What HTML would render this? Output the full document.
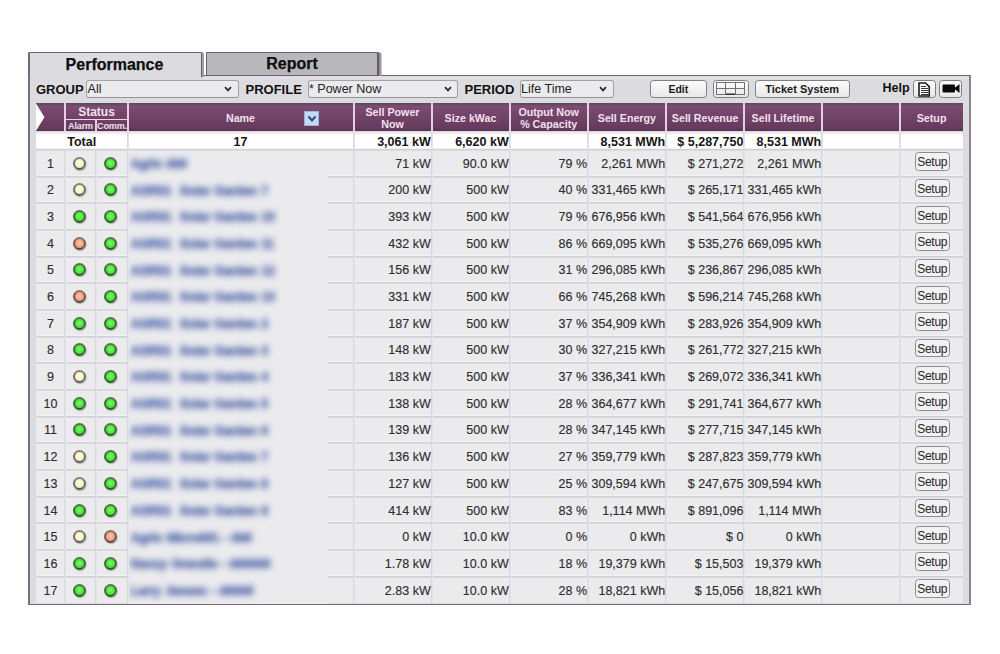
<!DOCTYPE html>
<html><head><meta charset="utf-8"><title>Performance</title>
<style>
html,body{margin:0;padding:0;background:#fff;width:1000px;height:654px;overflow:hidden;font-family:"Liberation Sans",sans-serif;}
.a{position:absolute;box-sizing:border-box;}
.frame{left:28px;top:75px;width:943px;height:530px;border:2px solid #76687a;border-top:1.5px solid #6e6070;border-right:2px solid #8a8290;border-left-color:#7a6e7e;border-bottom:1.6px solid #766a7a;background:#dcdce0;}
.tab1{left:28px;top:51.5px;width:174px;height:25.5px;background:#dcdce0;border-top:1.8px solid #6e6272;border-left:2px solid #76687a;border-right:1.8px solid #6a5e6e;box-shadow:2px 0 0 #a29aa6;border-top-right-radius:2px;}
.tab2{left:206px;top:51.8px;width:173px;height:24px;background:#b8b7bc;border:1.5px solid #6e6070;border-bottom-width:1.7px;border-right:2px solid #645a68;box-shadow:2.5px 0 0 #9a94a0;border-top-right-radius:3px;}
.tabt{font-weight:bold;font-size:16px;color:#0e0e0e;-webkit-text-stroke:0.25px #0e0e0e;text-align:center;line-height:20px;}
.lbl{font-weight:bold;font-size:13px;color:#111;line-height:18px;top:80.7px;}
.sel{top:79.6px;height:18.4px;background:#ebebee;border:1.2px solid #a4a4a8;border-bottom-color:#949498;border-radius:3px;font-size:12.5px;color:#222;line-height:17px;padding-left:0.2px;white-space:nowrap;}
.chev{position:absolute;right:5.5px;top:5.2px;width:8px;height:6px;}
.btn{top:79.8px;height:18px;background:linear-gradient(#fbfbfb,#e8e8ea);border:1.4px solid #808084;border-radius:3.5px;font-size:11px;font-weight:bold;color:#1a1a1a;text-align:center;line-height:16px;}
.hdr{top:103.1px;height:28.4px;background:linear-gradient(#5e4a5c 0,#5e4a5c 1px,#7e4c74 3.5px,#734569 40%,#663a5e 90%,#55324f 100%);}
.ht{color:#f2e0ee;font-weight:bold;font-size:10.7px;text-align:center;line-height:12px;}
.vl{width:2px;background:#e6cfe4;}
.tot{top:131.5px;height:18.3px;background:linear-gradient(#e6e2ec 0,#f4f2f6 2px,#fff 3px);}
.tt{font-weight:bold;font-size:12.5px;color:#151515;line-height:20px;white-space:nowrap;}
.row{background:#ebebee;}
.td{font-size:12.5px;color:#2e2e2e;white-space:nowrap;text-align:right;-webkit-text-stroke:0.15px #2e2e2e;}
.hl{height:2px;background:linear-gradient(#d0d0d5 50%,#dcdce0 50%);box-shadow:0 -1px 0 #f2f2f4;}
.vg{width:1px;background:#d8d8de;box-shadow:1px 0 0 #e4e4e8;}
.led{width:13px;height:13px;border-radius:50%;}
.led{box-shadow:0.6px 1px 1.2px rgba(0,0,0,.28);border:2px solid;background-clip:padding-box;}
.Y{border-color:#85827a #727068 #5c5a54 #727068;background:radial-gradient(circle at 50% 45%,#fffef0 0,#f7f3c4 50%,#e9e5aa 100%);}
.G{border-color:#4a7a42 #3e6c36 #30582a #3e6c36;background:radial-gradient(circle at 50% 45%,#80f870 0,#4ce63a 55%,#3cd02c 100%);}
.O{border-color:#8a7266 #735a4e #5e463a #735a4e;background:radial-gradient(circle at 50% 45%,#fcc8ae 0,#f2a080 55%,#e28c6c 100%);}
.setup{width:34.5px;height:18.5px;background:#f1f1f3;border:1.4px solid #8e8e92;border-radius:3.5px;font-size:12px;letter-spacing:-0.25px;color:#262626;text-align:center;line-height:18.4px;}
.blur{left:128.6px;top:151px;width:199.6px;height:452.5px;background:#ebebee;overflow:hidden;}
.nm{position:absolute;left:2px;font-size:12.5px;letter-spacing:-0.2px;color:#6074b0;-webkit-text-stroke:1px #6074b0;white-space:nowrap;filter:blur(3.2px);font-weight:bold;word-spacing:1px;}
</style></head><body>

<div class="a frame"></div>
<div class="a" style="left:204px;top:76.5px;width:765px;height:2.5px;background:#e4e0e8;"></div>
<div class="a tab1"></div>
<div class="a tab2"></div>
<div class="a tabt" style="left:27px;top:55.3px;width:175px;">Performance</div>
<div class="a tabt" style="left:206px;top:54px;width:172px;">Report</div>
<div class="a lbl" style="left:36px;">GROUP</div>
<div class="a sel" style="left:86.4px;width:152.4px;">All<svg class="chev" viewBox="0 0 8 6"><path d="M1 1.2 L4 4.4 L7 1.2" fill="none" stroke="#2a2a2a" stroke-width="1.7"/></svg></div>
<div class="a lbl" style="left:245.5px;">PROFILE</div>
<div class="a sel" style="left:307.8px;width:150.6px;">* Power Now<svg class="chev" viewBox="0 0 8 6"><path d="M1 1.2 L4 4.4 L7 1.2" fill="none" stroke="#2a2a2a" stroke-width="1.7"/></svg></div>
<div class="a lbl" style="left:464.5px;">PERIOD</div>
<div class="a sel" style="left:519.9px;width:94.1px;">Life Time<svg class="chev" viewBox="0 0 8 6"><path d="M1 1.2 L4 4.4 L7 1.2" fill="none" stroke="#2a2a2a" stroke-width="1.7"/></svg></div>
<div class="a btn" style="left:650.2px;width:56.4px;font-size:10.5px;">Edit</div>
<div class="a btn" style="left:712.6px;width:36.6px;"><svg style="position:absolute;left:2.2px;top:1px" width="29" height="13" viewBox="0 0 29 13"><g fill="none" stroke="#707070" stroke-width="1"><rect x="0.5" y="0.5" width="28" height="12"/><line x1="9.5" y1="0.5" x2="9.5" y2="12.5"/><line x1="19.5" y1="0.5" x2="19.5" y2="12.5"/><line x1="0.5" y1="6.5" x2="28.5" y2="6.5"/></g><rect x="10" y="11.5" width="9" height="1.5" fill="#333"/></svg></div>
<div class="a btn" style="left:754.8px;width:94.8px;">Ticket System</div>
<div class="a lbl" style="left:882.5px;top:78.5px;font-size:12.5px;">Help</div>
<div class="a btn" style="left:912.5px;width:23px;top:79.5px;height:18.5px;"></div>
<svg class="a" style="left:918px;top:82px" width="13" height="15" viewBox="0 0 13 15" shape-rendering="crispEdges"><path d="M1 1 H7.5 L11.2 4.7 V14 H1 Z" fill="#fff" stroke="#1a1a1a" stroke-width="1.6" shape-rendering="geometricPrecision"/><g fill="#333"><rect x="3" y="4" width="5" height="1"/><rect x="3" y="6" width="6.5" height="1"/><rect x="3" y="8" width="6.5" height="1"/><rect x="3" y="10" width="6.5" height="1"/><rect x="3" y="12" width="6.5" height="1"/></g></svg>
<div class="a btn" style="left:939px;width:22.5px;top:79.5px;height:18.5px;"></div>
<svg class="a" style="left:942px;top:83px" width="18" height="11" viewBox="0 0 18 11"><rect x="0.5" y="1.5" width="12.5" height="8" rx="1" fill="#0a0a0a"/><path d="M12 5.5 L17.5 1 V10 Z" fill="#0a0a0a"/></svg>
<div class="a hdr" style="left:36px;width:927px;"></div>
<svg class="a" style="left:36px;top:103.1px" width="9" height="28.4" viewBox="0 0 9 28.4"><path d="M0 0.6 L8.5 14.2 L0 27.8 Z" fill="#fff"/></svg>
<div class="a vl" style="left:64px;top:103.1px;height:28.4px;"></div>
<div class="a vl" style="left:95px;top:119px;height:12.5px;"></div>
<div class="a vl" style="left:127px;top:103.1px;height:28.4px;"></div>
<div class="a vl" style="left:353px;top:103.1px;height:28.4px;"></div>
<div class="a vl" style="left:431px;top:103.1px;height:28.4px;"></div>
<div class="a vl" style="left:509px;top:103.1px;height:28.4px;"></div>
<div class="a vl" style="left:587px;top:103.1px;height:28.4px;"></div>
<div class="a vl" style="left:665px;top:103.1px;height:28.4px;"></div>
<div class="a vl" style="left:743px;top:103.1px;height:28.4px;"></div>
<div class="a vl" style="left:821px;top:103.1px;height:28.4px;"></div>
<div class="a vl" style="left:899px;top:103.1px;height:28.4px;"></div>
<div class="a" style="left:65px;top:118.5px;width:63px;height:1.6px;background:#ecd4ea;"></div>
<div class="a ht" style="left:65px;top:106px;width:63px;font-size:12px;">Status</div>
<div class="a ht" style="left:65px;top:120.5px;width:31px;font-size:9px;line-height:10px;letter-spacing:-0.1px;">Alarm</div>
<div class="a ht" style="left:96px;top:120.5px;width:32px;font-size:9px;line-height:10px;letter-spacing:-0.1px;">Comm.</div>
<div class="a ht" style="left:127.5px;top:112px;width:226px;">Name</div>
<div class="a" style="left:304px;top:111px;width:15px;height:15px;background:#c4daf4;border:1px solid #9ab4d8;box-sizing:border-box;"><svg style="position:absolute;left:2px;top:3px" width="10" height="8" viewBox="0 0 10 8"><path d="M1.5 1.5 L5 5.5 L8.5 1.5" fill="none" stroke="#334a7a" stroke-width="2"/></svg></div>
<div class="a ht" style="left:353.5px;top:106px;width:78px;">Sell Power<br>Now</div>
<div class="a ht" style="left:431.5px;top:112px;width:78px;">Size kWac</div>
<div class="a ht" style="left:509.5px;top:106px;width:78.3px;">Output Now<br>% Capacity</div>
<div class="a ht" style="left:587.8px;top:112px;width:78.2px;">Sell Energy</div>
<div class="a ht" style="left:666px;top:112px;width:78.2px;">Sell Revenue</div>
<div class="a ht" style="left:744.2px;top:112px;width:77.8px;">Sell Lifetime</div>
<div class="a ht" style="left:822px;top:112px;width:78.2px;"></div>
<div class="a ht" style="left:900.2px;top:112px;width:62.8px;">Setup</div>
<div class="a tot" style="left:36px;width:927px;"></div>
<div class="a tt" style="left:36px;top:131.5px;width:91.5px;text-align:center;">Total</div>
<div class="a tt" style="left:127.5px;top:131.5px;width:226px;text-align:center;">17</div>
<div class="a tt" style="left:330.7px;top:131.5px;width:100px;text-align:right;">3,061 kW</div>
<div class="a tt" style="left:408.7px;top:131.5px;width:100px;text-align:right;">6,620 kW</div>
<div class="a tt" style="left:565.2px;top:131.5px;width:100px;text-align:right;">8,531 MWh</div>
<div class="a tt" style="left:643.4px;top:131.5px;width:100px;text-align:right;">$ 5,287,750</div>
<div class="a tt" style="left:721.2px;top:131.5px;width:100px;text-align:right;">8,531 MWh</div>
<div class="a vg" style="left:127px;top:131.5px;height:18.5px;"></div>
<div class="a vg" style="left:353px;top:131.5px;height:18.5px;"></div>
<div class="a vg" style="left:431px;top:131.5px;height:18.5px;"></div>
<div class="a vg" style="left:509px;top:131.5px;height:18.5px;"></div>
<div class="a vg" style="left:587px;top:131.5px;height:18.5px;"></div>
<div class="a vg" style="left:665px;top:131.5px;height:18.5px;"></div>
<div class="a vg" style="left:743px;top:131.5px;height:18.5px;"></div>
<div class="a vg" style="left:821px;top:131.5px;height:18.5px;"></div>
<div class="a vg" style="left:899px;top:131.5px;height:18.5px;"></div>
<div class="a row" style="left:36px;top:149.95px;width:927px;height:453.56px;"></div>
<div class="a hl" style="left:36px;top:149px;width:927px;"></div>
<div class="a hl" style="left:36px;top:176px;width:927px;"></div>
<div class="a hl" style="left:36px;top:202px;width:927px;"></div>
<div class="a hl" style="left:36px;top:229px;width:927px;"></div>
<div class="a hl" style="left:36px;top:256px;width:927px;"></div>
<div class="a hl" style="left:36px;top:282px;width:927px;"></div>
<div class="a hl" style="left:36px;top:309px;width:927px;"></div>
<div class="a hl" style="left:36px;top:336px;width:927px;"></div>
<div class="a hl" style="left:36px;top:362px;width:927px;"></div>
<div class="a hl" style="left:36px;top:389px;width:927px;"></div>
<div class="a hl" style="left:36px;top:416px;width:927px;"></div>
<div class="a hl" style="left:36px;top:442px;width:927px;"></div>
<div class="a hl" style="left:36px;top:469px;width:927px;"></div>
<div class="a hl" style="left:36px;top:496px;width:927px;"></div>
<div class="a hl" style="left:36px;top:522px;width:927px;"></div>
<div class="a hl" style="left:36px;top:549px;width:927px;"></div>
<div class="a hl" style="left:36px;top:576px;width:927px;"></div>
<div class="a vg" style="left:64px;top:149.95px;height:453.56px;"></div>
<div class="a vg" style="left:95px;top:149.95px;height:453.56px;"></div>
<div class="a vg" style="left:127px;top:149.95px;height:453.56px;"></div>
<div class="a vg" style="left:353px;top:149.95px;height:453.56px;"></div>
<div class="a vg" style="left:431px;top:149.95px;height:453.56px;"></div>
<div class="a vg" style="left:509px;top:149.95px;height:453.56px;"></div>
<div class="a vg" style="left:587px;top:149.95px;height:453.56px;"></div>
<div class="a vg" style="left:665px;top:149.95px;height:453.56px;"></div>
<div class="a vg" style="left:743px;top:149.95px;height:453.56px;"></div>
<div class="a vg" style="left:821px;top:149.95px;height:453.56px;"></div>
<div class="a vg" style="left:899px;top:149.95px;height:453.56px;"></div>
<div class="a td" style="left:36px;top:156.69px;width:29px;text-align:center;line-height:14px;">1</div>
<div class="a led Y" style="left:72.5px;top:156.69px;"></div>
<div class="a led G" style="left:103.9px;top:156.69px;"></div>
<div class="a td" style="left:330.7px;top:156.69px;width:100px;line-height:14px;">71 kW</div>
<div class="a td" style="left:408.7px;top:156.69px;width:100px;line-height:14px;">90.0 kW</div>
<div class="a td" style="left:487px;top:156.69px;width:100px;line-height:14px;">79 %</div>
<div class="a td" style="left:565.2px;top:156.69px;width:100px;line-height:14px;">2,261 MWh</div>
<div class="a td" style="left:643.4px;top:156.69px;width:100px;line-height:14px;">$ 271,272</div>
<div class="a td" style="left:721.2px;top:156.69px;width:100px;line-height:14px;">2,261 MWh</div>
<div class="a setup" style="left:915px;top:152.15px;">Setup</div>
<div class="a td" style="left:36px;top:183.37px;width:29px;text-align:center;line-height:14px;">2</div>
<div class="a led Y" style="left:72.5px;top:183.37px;"></div>
<div class="a led G" style="left:103.9px;top:183.37px;"></div>
<div class="a td" style="left:330.7px;top:183.37px;width:100px;line-height:14px;">200 kW</div>
<div class="a td" style="left:408.7px;top:183.37px;width:100px;line-height:14px;">500 kW</div>
<div class="a td" style="left:487px;top:183.37px;width:100px;line-height:14px;">40 %</div>
<div class="a td" style="left:565.2px;top:183.37px;width:100px;line-height:14px;">331,465 kWh</div>
<div class="a td" style="left:643.4px;top:183.37px;width:100px;line-height:14px;">$ 265,171</div>
<div class="a td" style="left:721.2px;top:183.37px;width:100px;line-height:14px;">331,465 kWh</div>
<div class="a setup" style="left:915px;top:178.83px;">Setup</div>
<div class="a td" style="left:36px;top:210.05px;width:29px;text-align:center;line-height:14px;">3</div>
<div class="a led G" style="left:72.5px;top:210.05px;"></div>
<div class="a led G" style="left:103.9px;top:210.05px;"></div>
<div class="a td" style="left:330.7px;top:210.05px;width:100px;line-height:14px;">393 kW</div>
<div class="a td" style="left:408.7px;top:210.05px;width:100px;line-height:14px;">500 kW</div>
<div class="a td" style="left:487px;top:210.05px;width:100px;line-height:14px;">79 %</div>
<div class="a td" style="left:565.2px;top:210.05px;width:100px;line-height:14px;">676,956 kWh</div>
<div class="a td" style="left:643.4px;top:210.05px;width:100px;line-height:14px;">$ 541,564</div>
<div class="a td" style="left:721.2px;top:210.05px;width:100px;line-height:14px;">676,956 kWh</div>
<div class="a setup" style="left:915px;top:205.51px;">Setup</div>
<div class="a td" style="left:36px;top:236.73px;width:29px;text-align:center;line-height:14px;">4</div>
<div class="a led O" style="left:72.5px;top:236.73px;"></div>
<div class="a led G" style="left:103.9px;top:236.73px;"></div>
<div class="a td" style="left:330.7px;top:236.73px;width:100px;line-height:14px;">432 kW</div>
<div class="a td" style="left:408.7px;top:236.73px;width:100px;line-height:14px;">500 kW</div>
<div class="a td" style="left:487px;top:236.73px;width:100px;line-height:14px;">86 %</div>
<div class="a td" style="left:565.2px;top:236.73px;width:100px;line-height:14px;">669,095 kWh</div>
<div class="a td" style="left:643.4px;top:236.73px;width:100px;line-height:14px;">$ 535,276</div>
<div class="a td" style="left:721.2px;top:236.73px;width:100px;line-height:14px;">669,095 kWh</div>
<div class="a setup" style="left:915px;top:232.19px;">Setup</div>
<div class="a td" style="left:36px;top:263.41px;width:29px;text-align:center;line-height:14px;">5</div>
<div class="a led G" style="left:72.5px;top:263.41px;"></div>
<div class="a led G" style="left:103.9px;top:263.41px;"></div>
<div class="a td" style="left:330.7px;top:263.41px;width:100px;line-height:14px;">156 kW</div>
<div class="a td" style="left:408.7px;top:263.41px;width:100px;line-height:14px;">500 kW</div>
<div class="a td" style="left:487px;top:263.41px;width:100px;line-height:14px;">31 %</div>
<div class="a td" style="left:565.2px;top:263.41px;width:100px;line-height:14px;">296,085 kWh</div>
<div class="a td" style="left:643.4px;top:263.41px;width:100px;line-height:14px;">$ 236,867</div>
<div class="a td" style="left:721.2px;top:263.41px;width:100px;line-height:14px;">296,085 kWh</div>
<div class="a setup" style="left:915px;top:258.87px;">Setup</div>
<div class="a td" style="left:36px;top:290.09px;width:29px;text-align:center;line-height:14px;">6</div>
<div class="a led O" style="left:72.5px;top:290.09px;"></div>
<div class="a led G" style="left:103.9px;top:290.09px;"></div>
<div class="a td" style="left:330.7px;top:290.09px;width:100px;line-height:14px;">331 kW</div>
<div class="a td" style="left:408.7px;top:290.09px;width:100px;line-height:14px;">500 kW</div>
<div class="a td" style="left:487px;top:290.09px;width:100px;line-height:14px;">66 %</div>
<div class="a td" style="left:565.2px;top:290.09px;width:100px;line-height:14px;">745,268 kWh</div>
<div class="a td" style="left:643.4px;top:290.09px;width:100px;line-height:14px;">$ 596,214</div>
<div class="a td" style="left:721.2px;top:290.09px;width:100px;line-height:14px;">745,268 kWh</div>
<div class="a setup" style="left:915px;top:285.55px;">Setup</div>
<div class="a td" style="left:36px;top:316.77px;width:29px;text-align:center;line-height:14px;">7</div>
<div class="a led G" style="left:72.5px;top:316.77px;"></div>
<div class="a led G" style="left:103.9px;top:316.77px;"></div>
<div class="a td" style="left:330.7px;top:316.77px;width:100px;line-height:14px;">187 kW</div>
<div class="a td" style="left:408.7px;top:316.77px;width:100px;line-height:14px;">500 kW</div>
<div class="a td" style="left:487px;top:316.77px;width:100px;line-height:14px;">37 %</div>
<div class="a td" style="left:565.2px;top:316.77px;width:100px;line-height:14px;">354,909 kWh</div>
<div class="a td" style="left:643.4px;top:316.77px;width:100px;line-height:14px;">$ 283,926</div>
<div class="a td" style="left:721.2px;top:316.77px;width:100px;line-height:14px;">354,909 kWh</div>
<div class="a setup" style="left:915px;top:312.23px;">Setup</div>
<div class="a td" style="left:36px;top:343.45px;width:29px;text-align:center;line-height:14px;">8</div>
<div class="a led G" style="left:72.5px;top:343.45px;"></div>
<div class="a led G" style="left:103.9px;top:343.45px;"></div>
<div class="a td" style="left:330.7px;top:343.45px;width:100px;line-height:14px;">148 kW</div>
<div class="a td" style="left:408.7px;top:343.45px;width:100px;line-height:14px;">500 kW</div>
<div class="a td" style="left:487px;top:343.45px;width:100px;line-height:14px;">30 %</div>
<div class="a td" style="left:565.2px;top:343.45px;width:100px;line-height:14px;">327,215 kWh</div>
<div class="a td" style="left:643.4px;top:343.45px;width:100px;line-height:14px;">$ 261,772</div>
<div class="a td" style="left:721.2px;top:343.45px;width:100px;line-height:14px;">327,215 kWh</div>
<div class="a setup" style="left:915px;top:338.91px;">Setup</div>
<div class="a td" style="left:36px;top:370.13px;width:29px;text-align:center;line-height:14px;">9</div>
<div class="a led Y" style="left:72.5px;top:370.13px;"></div>
<div class="a led G" style="left:103.9px;top:370.13px;"></div>
<div class="a td" style="left:330.7px;top:370.13px;width:100px;line-height:14px;">183 kW</div>
<div class="a td" style="left:408.7px;top:370.13px;width:100px;line-height:14px;">500 kW</div>
<div class="a td" style="left:487px;top:370.13px;width:100px;line-height:14px;">37 %</div>
<div class="a td" style="left:565.2px;top:370.13px;width:100px;line-height:14px;">336,341 kWh</div>
<div class="a td" style="left:643.4px;top:370.13px;width:100px;line-height:14px;">$ 269,072</div>
<div class="a td" style="left:721.2px;top:370.13px;width:100px;line-height:14px;">336,341 kWh</div>
<div class="a setup" style="left:915px;top:365.59px;">Setup</div>
<div class="a td" style="left:36px;top:396.81px;width:29px;text-align:center;line-height:14px;">10</div>
<div class="a led G" style="left:72.5px;top:396.81px;"></div>
<div class="a led G" style="left:103.9px;top:396.81px;"></div>
<div class="a td" style="left:330.7px;top:396.81px;width:100px;line-height:14px;">138 kW</div>
<div class="a td" style="left:408.7px;top:396.81px;width:100px;line-height:14px;">500 kW</div>
<div class="a td" style="left:487px;top:396.81px;width:100px;line-height:14px;">28 %</div>
<div class="a td" style="left:565.2px;top:396.81px;width:100px;line-height:14px;">364,677 kWh</div>
<div class="a td" style="left:643.4px;top:396.81px;width:100px;line-height:14px;">$ 291,741</div>
<div class="a td" style="left:721.2px;top:396.81px;width:100px;line-height:14px;">364,677 kWh</div>
<div class="a setup" style="left:915px;top:392.27px;">Setup</div>
<div class="a td" style="left:36px;top:423.49px;width:29px;text-align:center;line-height:14px;">11</div>
<div class="a led G" style="left:72.5px;top:423.49px;"></div>
<div class="a led G" style="left:103.9px;top:423.49px;"></div>
<div class="a td" style="left:330.7px;top:423.49px;width:100px;line-height:14px;">139 kW</div>
<div class="a td" style="left:408.7px;top:423.49px;width:100px;line-height:14px;">500 kW</div>
<div class="a td" style="left:487px;top:423.49px;width:100px;line-height:14px;">28 %</div>
<div class="a td" style="left:565.2px;top:423.49px;width:100px;line-height:14px;">347,145 kWh</div>
<div class="a td" style="left:643.4px;top:423.49px;width:100px;line-height:14px;">$ 277,715</div>
<div class="a td" style="left:721.2px;top:423.49px;width:100px;line-height:14px;">347,145 kWh</div>
<div class="a setup" style="left:915px;top:418.95px;">Setup</div>
<div class="a td" style="left:36px;top:450.17px;width:29px;text-align:center;line-height:14px;">12</div>
<div class="a led Y" style="left:72.5px;top:450.17px;"></div>
<div class="a led G" style="left:103.9px;top:450.17px;"></div>
<div class="a td" style="left:330.7px;top:450.17px;width:100px;line-height:14px;">136 kW</div>
<div class="a td" style="left:408.7px;top:450.17px;width:100px;line-height:14px;">500 kW</div>
<div class="a td" style="left:487px;top:450.17px;width:100px;line-height:14px;">27 %</div>
<div class="a td" style="left:565.2px;top:450.17px;width:100px;line-height:14px;">359,779 kWh</div>
<div class="a td" style="left:643.4px;top:450.17px;width:100px;line-height:14px;">$ 287,823</div>
<div class="a td" style="left:721.2px;top:450.17px;width:100px;line-height:14px;">359,779 kWh</div>
<div class="a setup" style="left:915px;top:445.63px;">Setup</div>
<div class="a td" style="left:36px;top:476.85px;width:29px;text-align:center;line-height:14px;">13</div>
<div class="a led Y" style="left:72.5px;top:476.85px;"></div>
<div class="a led G" style="left:103.9px;top:476.85px;"></div>
<div class="a td" style="left:330.7px;top:476.85px;width:100px;line-height:14px;">127 kW</div>
<div class="a td" style="left:408.7px;top:476.85px;width:100px;line-height:14px;">500 kW</div>
<div class="a td" style="left:487px;top:476.85px;width:100px;line-height:14px;">25 %</div>
<div class="a td" style="left:565.2px;top:476.85px;width:100px;line-height:14px;">309,594 kWh</div>
<div class="a td" style="left:643.4px;top:476.85px;width:100px;line-height:14px;">$ 247,675</div>
<div class="a td" style="left:721.2px;top:476.85px;width:100px;line-height:14px;">309,594 kWh</div>
<div class="a setup" style="left:915px;top:472.31px;">Setup</div>
<div class="a td" style="left:36px;top:503.53px;width:29px;text-align:center;line-height:14px;">14</div>
<div class="a led G" style="left:72.5px;top:503.53px;"></div>
<div class="a led G" style="left:103.9px;top:503.53px;"></div>
<div class="a td" style="left:330.7px;top:503.53px;width:100px;line-height:14px;">414 kW</div>
<div class="a td" style="left:408.7px;top:503.53px;width:100px;line-height:14px;">500 kW</div>
<div class="a td" style="left:487px;top:503.53px;width:100px;line-height:14px;">83 %</div>
<div class="a td" style="left:565.2px;top:503.53px;width:100px;line-height:14px;">1,114 MWh</div>
<div class="a td" style="left:643.4px;top:503.53px;width:100px;line-height:14px;">$ 891,096</div>
<div class="a td" style="left:721.2px;top:503.53px;width:100px;line-height:14px;">1,114 MWh</div>
<div class="a setup" style="left:915px;top:498.99px;">Setup</div>
<div class="a td" style="left:36px;top:530.21px;width:29px;text-align:center;line-height:14px;">15</div>
<div class="a led Y" style="left:72.5px;top:530.21px;"></div>
<div class="a led O" style="left:103.9px;top:530.21px;"></div>
<div class="a td" style="left:330.7px;top:530.21px;width:100px;line-height:14px;">0 kW</div>
<div class="a td" style="left:408.7px;top:530.21px;width:100px;line-height:14px;">10.0 kW</div>
<div class="a td" style="left:487px;top:530.21px;width:100px;line-height:14px;">0 %</div>
<div class="a td" style="left:565.2px;top:530.21px;width:100px;line-height:14px;">0 kWh</div>
<div class="a td" style="left:643.4px;top:530.21px;width:100px;line-height:14px;">$ 0</div>
<div class="a td" style="left:721.2px;top:530.21px;width:100px;line-height:14px;">0 kWh</div>
<div class="a setup" style="left:915px;top:525.67px;">Setup</div>
<div class="a td" style="left:36px;top:556.89px;width:29px;text-align:center;line-height:14px;">16</div>
<div class="a led G" style="left:72.5px;top:556.89px;"></div>
<div class="a led G" style="left:103.9px;top:556.89px;"></div>
<div class="a td" style="left:330.7px;top:556.89px;width:100px;line-height:14px;">1.78 kW</div>
<div class="a td" style="left:408.7px;top:556.89px;width:100px;line-height:14px;">10.0 kW</div>
<div class="a td" style="left:487px;top:556.89px;width:100px;line-height:14px;">18 %</div>
<div class="a td" style="left:565.2px;top:556.89px;width:100px;line-height:14px;">19,379 kWh</div>
<div class="a td" style="left:643.4px;top:556.89px;width:100px;line-height:14px;">$ 15,503</div>
<div class="a td" style="left:721.2px;top:556.89px;width:100px;line-height:14px;">19,379 kWh</div>
<div class="a setup" style="left:915px;top:552.35px;">Setup</div>
<div class="a td" style="left:36px;top:583.57px;width:29px;text-align:center;line-height:14px;">17</div>
<div class="a led G" style="left:72.5px;top:583.57px;"></div>
<div class="a led G" style="left:103.9px;top:583.57px;"></div>
<div class="a td" style="left:330.7px;top:583.57px;width:100px;line-height:14px;">2.83 kW</div>
<div class="a td" style="left:408.7px;top:583.57px;width:100px;line-height:14px;">10.0 kW</div>
<div class="a td" style="left:487px;top:583.57px;width:100px;line-height:14px;">28 %</div>
<div class="a td" style="left:565.2px;top:583.57px;width:100px;line-height:14px;">18,821 kWh</div>
<div class="a td" style="left:643.4px;top:583.57px;width:100px;line-height:14px;">$ 15,056</div>
<div class="a td" style="left:721.2px;top:583.57px;width:100px;line-height:14px;">18,821 kWh</div>
<div class="a setup" style="left:915px;top:579.03px;">Setup</div>
<div class="a blur">
<div class="nm" style="top:5.99px;line-height:14px;">Agrio ###</div>
<div class="nm" style="top:32.67px;line-height:14px;">AGR01 &nbsp;Solar Garden 7</div>
<div class="nm" style="top:59.35px;line-height:14px;">AGR01 &nbsp;Solar Garden 10</div>
<div class="nm" style="top:86.03px;line-height:14px;">AGR01 &nbsp;Solar Garden 11</div>
<div class="nm" style="top:112.71px;line-height:14px;">AGR01 &nbsp;Solar Garden 12</div>
<div class="nm" style="top:139.39px;line-height:14px;">AGR01 &nbsp;Solar Garden 13</div>
<div class="nm" style="top:166.07px;line-height:14px;">AGR01 &nbsp;Solar Garden 2</div>
<div class="nm" style="top:192.75px;line-height:14px;">AGR01 &nbsp;Solar Garden 3</div>
<div class="nm" style="top:219.43px;line-height:14px;">AGR01 &nbsp;Solar Garden 4</div>
<div class="nm" style="top:246.11px;line-height:14px;">AGR01 &nbsp;Solar Garden 5</div>
<div class="nm" style="top:272.79px;line-height:14px;">AGR01 &nbsp;Solar Garden 6</div>
<div class="nm" style="top:299.47px;line-height:14px;">AGR01 &nbsp;Solar Garden 7</div>
<div class="nm" style="top:326.15px;line-height:14px;">AGR01 &nbsp;Solar Garden 8</div>
<div class="nm" style="top:352.83px;line-height:14px;">AGR01 &nbsp;Solar Garden 9</div>
<div class="nm" style="top:379.51px;line-height:14px;">Agrio Micro##1 - ###</div>
<div class="nm" style="top:406.19px;line-height:14px;">Nancy Grandle - ######</div>
<div class="nm" style="top:432.87px;line-height:14px;">Larry Jensen - #####</div>
</div>
</body></html>
